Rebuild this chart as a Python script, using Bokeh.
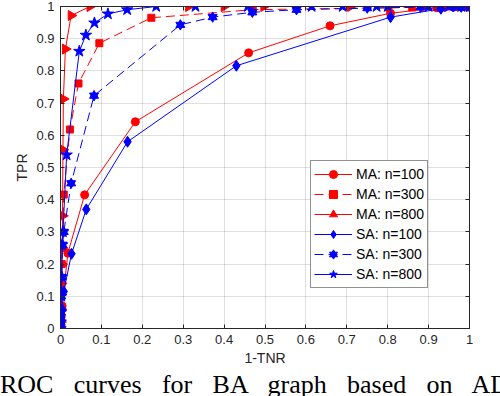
import numpy as np
from bokeh.plotting import figure
from bokeh.layouts import column
from bokeh.models import (Range1d, LinearAxis, FixedTicker, Legend, LegendItem, Div)
from bokeh.embed import file_html
from bokeh.resources import INLINE

# ---------------- data ----------------
ma100_x = [0, 0.0005, 0.001, 0.002, 0.004, 0.018, 0.059, 0.183, 0.46, 0.659, 0.807, 0.92, 0.97, 0.99, 1]
ma100_y = [0, 0.01, 0.02, 0.04, 0.07, 0.234, 0.415, 0.642, 0.856, 0.94, 0.979, 0.996, 0.999, 1, 1]

ma300_x = [0, 0.0005, 0.001, 0.002, 0.003, 0.004, 0.008, 0.023, 0.044, 0.095, 0.222, 0.47, 0.86, 0.95, 0.98, 1]
ma300_y = [0, 0.03, 0.06, 0.13, 0.2, 0.25, 0.416, 0.618, 0.761, 0.886, 0.965, 0.99, 0.997, 1, 1, 1]

ma800_x = [0, 0.0005, 0.001, 0.002, 0.003, 0.004, 0.005, 0.006, 0.007, 0.012, 0.026, 0.072,
           0.313, 0.4, 0.497, 0.709, 0.803, 0.89, 0.945, 1]
ma800_y = [0, 0.02, 0.06, 0.14, 0.2, 0.25, 0.35, 0.555, 0.713, 0.868, 0.972, 1,
           1, 1, 1, 1, 1, 1, 1, 1]

sa100_x = [0, 0.0005, 0.001, 0.002, 0.004, 0.008, 0.027, 0.063, 0.164, 0.43, 0.807, 0.93, 0.98, 1]
sa100_y = [0, 0.01, 0.02, 0.035, 0.06, 0.115, 0.232, 0.37, 0.58, 0.816, 0.967, 0.993, 0.999, 1]

sa300_x = [0, 0.0005, 0.001, 0.002, 0.003, 0.005, 0.008, 0.026, 0.082, 0.293, 0.372, 0.469,
           0.577, 0.75, 0.88, 0.96, 1]
sa300_y = [0, 0.02, 0.05, 0.1, 0.16, 0.26, 0.3, 0.451, 0.723, 0.943, 0.967, 0.982,
           0.99, 0.995, 0.998, 1, 1]

sa800_x = [0, 0.0005, 0.001, 0.002, 0.003, 0.004, 0.006, 0.015, 0.046, 0.062, 0.083, 0.116,
           0.163, 0.234, 0.33, 0.458, 0.614, 0.69, 0.773, 0.8, 0.9, 0.93, 0.95, 0.97, 0.98, 1]
sa800_y = [0, 0.02, 0.05, 0.1, 0.16, 0.26, 0.3, 0.539, 0.861, 0.911, 0.949, 0.977,
           0.99, 1, 1, 1, 1, 1, 1, 1, 1, 1, 1, 1, 1, 1]

ticks = [0, 0.1, 0.2, 0.3, 0.4, 0.5, 0.6, 0.7, 0.8, 0.9, 1]
tick_labels = ["0", "0.1", "0.2", "0.3", "0.4", "0.5", "0.6", "0.7", "0.8", "0.9", "1"]

legend_labels = ["MA: n=100", "MA: n=300", "MA: n=800", "SA: n=100", "SA: n=300", "SA: n=800"]

caption = "ROC curves for BA graph based on AD"

# ---------------- styling ----------------
RED = "#FF0000"
BLUE = "#0000FF"
AX = "#262626"
FONT = "Liberation Sans"

p = figure(width=500, height=372, x_range=Range1d(0, 1), y_range=Range1d(0, 1),
           output_backend="svg", toolbar_location=None,
           min_border_left=60, min_border_right=31, min_border_top=6, min_border_bottom=44)
p.outline_line_color = AX
p.outline_line_width = 1

overrides = {t: l for t, l in zip(ticks, tick_labels)}
for ax in (p.xaxis[0], p.yaxis[0]):
    ax.ticker = FixedTicker(ticks=ticks)
    ax.major_label_overrides = overrides
    ax.major_tick_in = 4
    ax.major_tick_out = 0
    ax.minor_tick_line_color = None
    ax.axis_line_color = AX
    ax.major_tick_line_color = AX
    ax.major_label_text_font = FONT
    ax.major_label_text_font_size = "13px"
    ax.major_label_text_color = AX
    ax.axis_label_text_font = FONT
    ax.axis_label_text_font_size = "14px"
    ax.axis_label_text_font_style = "normal"
    ax.axis_label_text_color = AX
p.xaxis.axis_label = "1-TNR"
p.yaxis.axis_label = "TPR"
p.xaxis.major_label_standoff = 6
p.xaxis.axis_label_standoff = 3
p.yaxis.major_label_standoff = 6
p.yaxis.axis_label_standoff = 3

for loc in ("above", "right"):
    ax = LinearAxis(ticker=FixedTicker(ticks=ticks))
    ax.major_label_text_font_size = "1px"
    ax.major_label_text_color = None
    ax.major_label_standoff = 0
    ax.major_tick_in = 4
    ax.major_tick_out = 0
    ax.minor_tick_line_color = None
    ax.axis_line_color = AX
    ax.major_tick_line_color = AX
    p.add_layout(ax, loc)

for g in (p.xgrid[0], p.ygrid[0]):
    g.ticker = FixedTicker(ticks=ticks)
    g.grid_line_color = AX
    g.grid_line_alpha = 0.15

items = []

def series(xs, ys, color, dash, marker, size, label):
    lr = p.line(xs, ys, line_color=color, line_width=1, line_dash=dash)
    rs = [lr]
    if marker == "rtri":
        rs.append(p.scatter(xs, ys, marker="triangle", size=size, angle=-np.pi / 2,
                            fill_color=color, line_color=color))
    elif marker == "hexagram":
        rs.append(p.scatter(xs, ys, marker="triangle", size=size, fill_color=color, line_color=color))
        rs.append(p.scatter(xs, ys, marker="inverted_triangle", size=size, fill_color=color, line_color=color))
    else:
        rs.append(p.scatter(xs, ys, marker=marker, size=size, fill_color=color, line_color=color))
    items.append(LegendItem(label=label, renderers=rs))

series(ma100_x, ma100_y, RED, "solid", "circle", 8, legend_labels[0])
series(ma300_x, ma300_y, RED, "9 5", "square", 7, legend_labels[1])
series(ma800_x, ma800_y, RED, "solid", "rtri", 10, legend_labels[2])
series(sa100_x, sa100_y, BLUE, "solid", "diamond", 11, legend_labels[3])
series(sa300_x, sa300_y, BLUE, "9 5", "hexagram", 9, legend_labels[4])
series(sa800_x, sa800_y, BLUE, "solid", "star", 12, legend_labels[5])

legend = Legend(items=items, location=(250, 40), margin=0, padding=3, spacing=0,
                glyph_width=38, glyph_height=20, label_height=20, label_standoff=4,
                label_text_font=FONT, label_text_font_size="14px", label_text_color="black",
                border_line_color=AX, border_line_width=1, background_fill_color="white",
                background_fill_alpha=1)
p.add_layout(legend, "center")

# ---------------- caption (justified line of a paper's figure caption, cut at the right) ----------------
cap_html = ('<div style="width:509px; font-family:\'Liberation Serif\'; font-size:26px; '
            'line-height:26px; color:black; text-align:justify; text-align-last:justify; '
            'margin:0; padding:0;">' + caption + '</div>')
cap = Div(text=cap_html, width=500, height=24, margin=0,
          styles={"overflow": "hidden"})

layout = column(p, cap, spacing=0)

open("out.html", "w").write(file_html(layout, INLINE))
